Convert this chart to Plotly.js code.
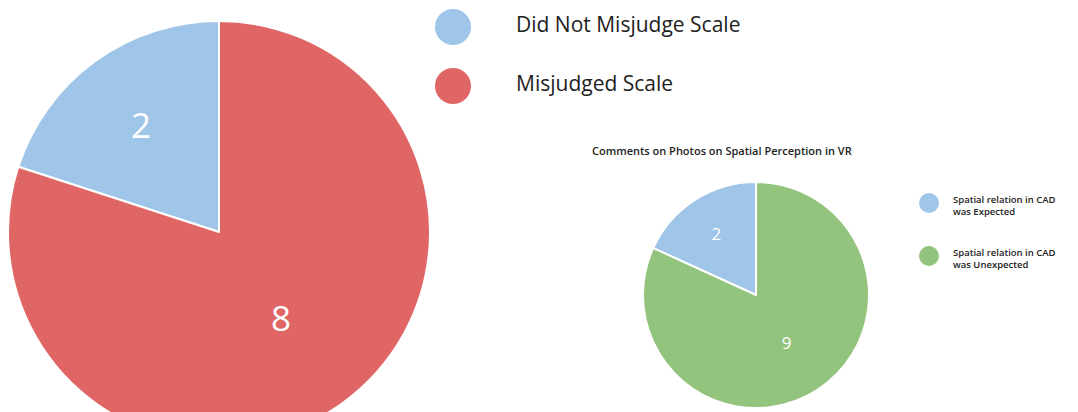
<!DOCTYPE html>
<html>
<head>
<meta charset="utf-8">
<script src="https://cdn.plot.ly/plotly-3.0.1.min.js"></script>
<style>
html,body{margin:0;padding:0;overflow:hidden;background:#fff;width:1078px;height:412px;}
#chart{width:1078px;height:460px;}
</style>
</head>
<body>
<div id="chart"></div>
<script>
// Data
const scaleLabels = ["Did Not Misjudge Scale", "Misjudged Scale"];
const scaleValues = [2, 8];
const scaleColors = ["#9fc5e8", "#e06666"];

const photoTitle = "Comments on Photos on Spatial Perception in VR";
const photoLabels = ["Spatial relation in CAD was Expected", "Spatial relation in CAD was Unexpected"];
const photoValues = [2, 9];
const photoColors = ["#9fc5e8", "#93c47d"];

const W = 1078, H = 460;
const px = x => x / W;
const py = y => 1 - y / H;

const FONT = "Open Sans, Lato, sans-serif";

// first slice ends at 12 o'clock (it sits to the left of the top)
const startAngle = vals => -360 * vals[0] / vals.reduce((a, b) => a + b, 0);

const traces = [
  {
    type: "pie",
    labels: scaleLabels,
    values: scaleValues,
    sort: false,
    direction: "clockwise",
    rotation: startAngle(scaleValues),
    marker: {colors: scaleColors, line: {color: "#ffffff", width: 2}},
    textinfo: "value",
    textposition: "inside",
    insidetextorientation: "horizontal",
    textfont: {family: FONT, size: 35, color: "#ffffff"},
    domain: {x: [px(8), px(430)], y: [py(443), py(21)]},
    showlegend: false,
    hoverinfo: "label+value"
  },
  {
    type: "pie",
    labels: photoLabels,
    values: photoValues,
    sort: false,
    direction: "clockwise",
    rotation: startAngle(photoValues),
    marker: {colors: photoColors, line: {color: "#ffffff", width: 2}},
    textinfo: "value",
    textposition: "inside",
    insidetextorientation: "horizontal",
    textfont: {family: FONT, size: 17, color: "#ffffff"},
    domain: {x: [px(643), px(869)], y: [py(408), py(182)]},
    showlegend: false,
    hoverinfo: "label+value"
  }
];

const shapes = [];
const annotations = [];

// big legend
const bigLegY = [27, 86];
scaleLabels.forEach((lab, i) => {
  const r = 18, cx = 453, cy = bigLegY[i];
  shapes.push({type: "circle", xref: "paper", yref: "paper",
    x0: px(cx - r), x1: px(cx + r), y0: py(cy + r), y1: py(cy - r),
    fillcolor: scaleColors[i], line: {width: 0}});
  annotations.push({xref: "paper", yref: "paper", x: px(514), y: py(cy - 3),
    xanchor: "left", yanchor: "middle", showarrow: false, text: lab,
    font: {family: FONT, size: 21, color: "#222222"}});
});

// small legend
const smallLegY = [203, 256];
photoLabels.forEach((lab, i) => {
  const r = 10, cx = 929, cy = smallLegY[i];
  shapes.push({type: "circle", xref: "paper", yref: "paper",
    x0: px(cx - r), x1: px(cx + r), y0: py(cy + r), y1: py(cy - r),
    fillcolor: photoColors[i], line: {width: 0}});
  annotations.push({xref: "paper", yref: "paper", x: px(951), y: py(cy + 2),
    xanchor: "left", yanchor: "middle", align: "left", showarrow: false,
    text: lab.replace(" was ", "<br>was "),
    font: {family: FONT, size: 9.5, color: "#222222", weight: 600}});
});

annotations.push({xref: "paper", yref: "paper", x: px(722), y: py(150),
  xanchor: "center", yanchor: "middle", showarrow: false, text: photoTitle,
  font: {family: FONT, size: 11, color: "#222222", weight: 600}});

const layout = {
  width: W, height: H,
  margin: {l: 0, r: 0, t: 0, b: 0},
  paper_bgcolor: "#ffffff",
  plot_bgcolor: "#ffffff",
  showlegend: false,
  shapes: shapes,
  annotations: annotations
};

Plotly.newPlot("chart", traces, layout, {staticPlot: true, displayModeBar: false});
</script>
</body>
</html>
